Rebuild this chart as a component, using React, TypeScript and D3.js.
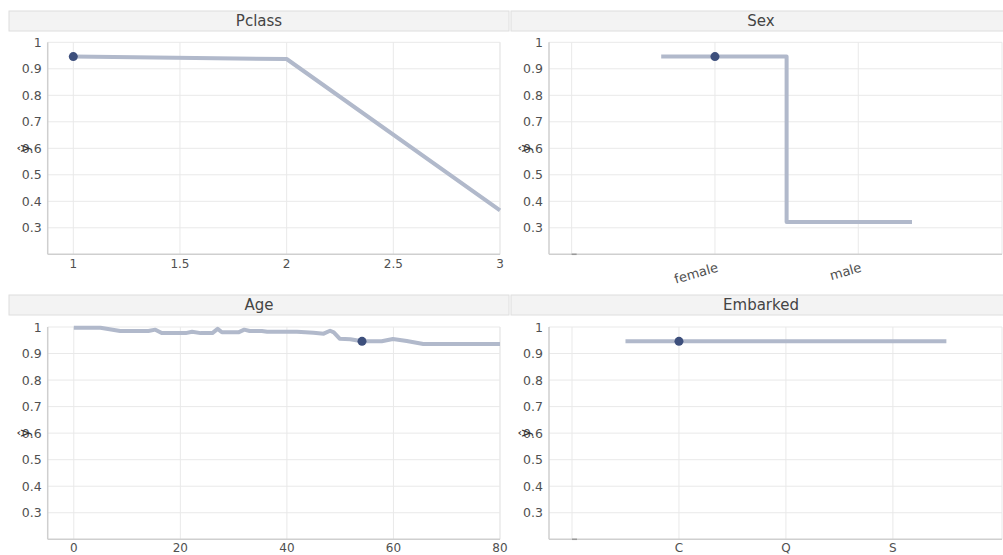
import React from "react";
import * as d3 from "d3";

// ---- data ----
const pclassX = [1, 2, 3];
const pclassY = [0.946, 0.937, 0.366];
const pclassMarker = { x: 1, y: 0.946 };

const sexCategories = ["", "female", "male"];
const sexY = [0.946, 0.322]; // female, male
const sexExtent = 0.375;
const sexMarker = { cat: "female", y: 0.946 };

const ageX = [0, 5, 8.7, 14, 15.3, 16.5, 21, 22.2, 23.8, 26, 27, 27.8, 30.9, 32, 33, 35.3, 36.3, 41.9, 45, 46.9, 48.1, 48.8, 49.9, 51.9, 54.1, 57.8, 59.9, 62.5, 65.6, 80];
const ageY = [0.997, 0.997, 0.985, 0.985, 0.99, 0.977, 0.977, 0.982, 0.977, 0.977, 0.993, 0.98, 0.98, 0.99, 0.985, 0.985, 0.982, 0.982, 0.978, 0.975, 0.986, 0.98, 0.956, 0.954, 0.946, 0.946, 0.955, 0.947, 0.936, 0.936];
const ageMarker = { x: 54.1, y: 0.946 };

const embarkedCategories = ["", "C", "Q", "S"];
const embarkedY = [0.946, 0.946, 0.946]; // C, Q, S
const embarkedExtent = 0.5;
const embarkedMarker = { cat: "C", y: 0.946 };

const yTicks = [0.3, 0.4, 0.5, 0.6, 0.7, 0.8, 0.9, 1];
const pclassTicks = [1, 1.5, 2, 2.5, 3];
const ageTicks = [0, 20, 40, 60, 80];

// ---- style ----
const LINE = "#b1b9cb";
const MARK = "#3d4f7c";
const GRID = "#e9e9e9";
const AXIS = "#cfcfcf";
const TEXT = "#505050";
const FONT = "'DejaVu Sans', Verdana, sans-serif";

type Pt = { x: number; y: number };

function Header({ x, y, w, title }: { x: number; y: number; w: number; title: string }) {
  return (
    <g>
      <rect x={x} y={y} width={w} height={20} fill="#f3f3f3" stroke="#dedede" strokeWidth={1} />
      <text x={x + w / 2} y={y + 10} textAnchor="middle" dominantBaseline="central" fontSize={15} fill="#444" fontFamily={FONT}>
        {title}
      </text>
    </g>
  );
}

function Panel(props: {
  left: number;
  right: number;
  top: number;
  bottom: number;
  xDomain: [number, number];
  xTicks: { v: number; label: string }[];
  rotate?: boolean;
  emptyTick?: number;
  points: Pt[];
  step?: boolean;
  marker: Pt;
}) {
  const { left, right, top, bottom, xDomain, xTicks, rotate, emptyTick, points, step, marker } = props;
  const x = d3.scaleLinear().domain(xDomain).range([left, right]);
  const y = d3.scaleLinear().domain([0.2, 1]).range([bottom, top]);
  const line = d3
    .line<Pt>()
    .x((d) => x(d.x))
    .y((d) => y(d.y))
    .curve(step ? d3.curveStep : d3.curveLinear);
  return (
    <g fontFamily={FONT}>
      {yTicks.map((t) => (
        <line key={"gy" + t} x1={left} x2={right} y1={y(t)} y2={y(t)} stroke={GRID} strokeWidth={1} />
      ))}
      {xTicks.map((t) => (
        <line key={"gx" + t.v} x1={x(t.v)} x2={x(t.v)} y1={top} y2={bottom} stroke={GRID} strokeWidth={1} />
      ))}
      <line x1={right} x2={right} y1={top} y2={bottom} stroke={GRID} strokeWidth={1} />
      <line x1={left} x2={left} y1={top} y2={bottom} stroke={AXIS} strokeWidth={1.5} />
      <line x1={left} x2={right} y1={bottom} y2={bottom} stroke={AXIS} strokeWidth={1.5} />
      {emptyTick !== undefined && (
        <line x1={x(emptyTick)} x2={x(emptyTick) + 5} y1={bottom} y2={bottom} stroke="#999" strokeWidth={1.5} />
      )}
      {yTicks.map((t) => (
        <text key={"ty" + t} x={left - 6} y={y(t)} textAnchor="end" dominantBaseline="central" fontSize={12.5} fill={TEXT}>
          {String(t)}
        </text>
      ))}
      {xTicks.map((t) =>
        t.label === "" ? null : rotate ? (
          <text key={"tx" + t.v} transform={`translate(${x(t.v) + 4},${bottom + 17}) rotate(-16)`} textAnchor="end" fontSize={13} fill={TEXT}>
            {t.label}
          </text>
        ) : (
          <text key={"tx" + t.v} x={x(t.v)} y={Math.min(bottom + 10, 548)} textAnchor="middle" dominantBaseline="central" fontSize={12} fill={TEXT}>
            {t.label}
          </text>
        )
      )}
      <text transform={`translate(${left - 24},${y(0.6)}) rotate(-90)`} textAnchor="middle" dominantBaseline="central" fontSize={14} fill="#333">
        ŷ
      </text>
      <path d={line(points) || ""} fill="none" stroke={LINE} strokeWidth={4} strokeLinejoin="round" />
      <circle cx={x(marker.x)} cy={y(marker.y)} r={4.5} fill={MARK} />
    </g>
  );
}

export default function App() {
  const colL = { left: 47.7, right: 500 };
  const colR = { left: 549, right: 1002 };
  const rowT = { top: 42.3, bottom: 254.3 };
  const rowB = { top: 327, bottom: 539.3 };

  const pclassPts = pclassX.map((v, i) => ({ x: v, y: pclassY[i] }));
  const agePts = ageX.map((v, i) => ({ x: v, y: ageY[i] }));

  const sexIdx = sexCategories.map((_, i) => i).slice(1);
  const sexPts: Pt[] = [
    { x: sexIdx[0] - sexExtent, y: sexY[0] },
    ...sexIdx.map((c, i) => ({ x: c, y: sexY[i] })),
    { x: sexIdx[sexIdx.length - 1] + sexExtent, y: sexY[sexY.length - 1] },
  ];
  const embIdx = embarkedCategories.map((_, i) => i).slice(1);
  const embPts: Pt[] = [
    { x: embIdx[0] - embarkedExtent, y: embarkedY[0] },
    ...embIdx.map((c, i) => ({ x: c, y: embarkedY[i] })),
    { x: embIdx[embIdx.length - 1] + embarkedExtent, y: embarkedY[embarkedY.length - 1] },
  ];

  return (
    <svg width={1003} height={555} style={{ position: "absolute", left: 0, top: 0, background: "#fff" }}>
      <Header x={9} y={11} w={500} title="Pclass" />
      <Header x={511} y={11} w={500} title="Sex" />
      <Header x={9} y={295} w={500} title="Age" />
      <Header x={511} y={295} w={500} title="Embarked" />

      <Panel
        {...colL}
        {...rowT}
        xDomain={[0.88, 3]}
        xTicks={pclassTicks.map((v) => ({ v, label: String(v) }))}
        points={pclassPts}
        marker={pclassMarker}
      />
      <Panel
        {...colR}
        {...rowT}
        xDomain={[-0.158, 3.003]}
        xTicks={sexCategories.map((c, i) => ({ v: i, label: c }))}
        rotate
        emptyTick={0}
        points={sexPts}
        step
        marker={{ x: sexCategories.indexOf(sexMarker.cat), y: sexMarker.y }}
      />
      <Panel
        {...colL}
        {...rowB}
        xDomain={[-4.9, 80]}
        xTicks={ageTicks.map((v) => ({ v, label: String(v) }))}
        points={agePts}
        marker={ageMarker}
      />
      <Panel
        {...colR}
        {...rowB}
        xDomain={[-0.215, 4.02]}
        xTicks={embarkedCategories.map((c, i) => ({ v: i, label: c }))}
        emptyTick={0}
        points={embPts}
        step
        marker={{ x: embarkedCategories.indexOf(embarkedMarker.cat), y: embarkedMarker.y }}
      />
    </svg>
  );
}
